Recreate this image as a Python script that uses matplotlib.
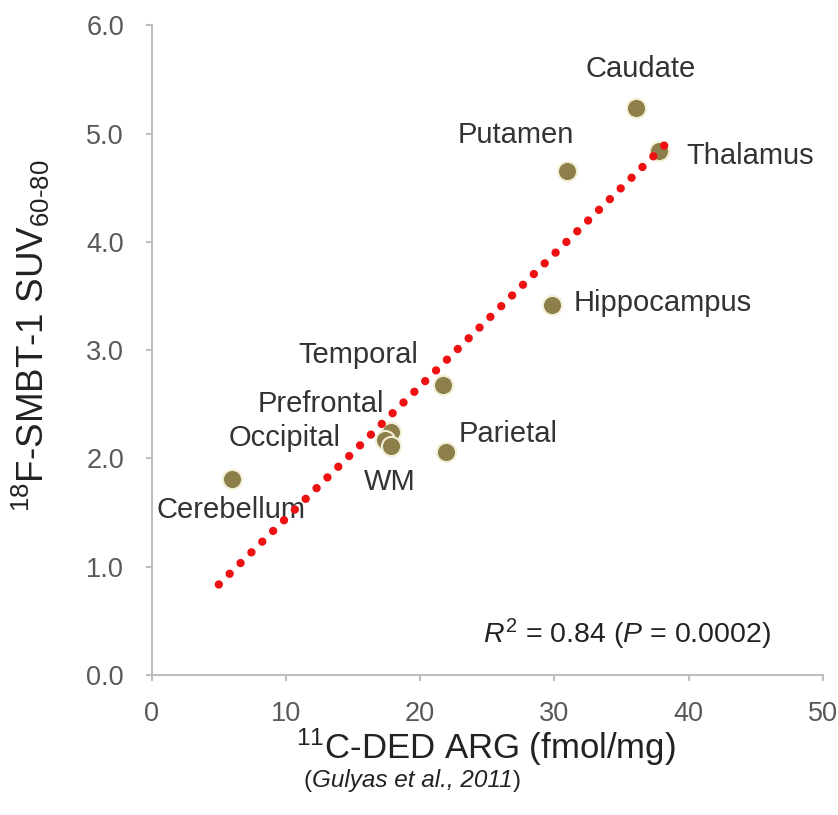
import numpy as np
import matplotlib
matplotlib.use("Agg")
import matplotlib.pyplot as plt

plt.rcParams['font.family'] = ['Liberation Sans', 'DejaVu Sans']
plt.rcParams['mathtext.fontset'] = 'custom'
plt.rcParams['mathtext.rm'] = 'Liberation Sans'
plt.rcParams['mathtext.it'] = 'Liberation Sans:italic'

# regions: 11C-DED ARG (fmol/mg) vs 18F-SMBT-1 SUV60-80
regions = ["Caudate", "Thalamus", "Putamen", "Hippocampus", "Temporal",
           "Parietal", "Prefrontal", "Occipital", "WM", "Cerebellum"]
arg = [36.1, 37.8, 30.9, 29.8, 21.7, 21.9, 17.8, 17.4, 17.8, 6.0]
suv = [5.24, 4.84, 4.65, 3.42, 2.68, 2.06, 2.24, 2.17, 2.11, 1.81]

# label anchors (x, y, ha)
lab_x = [36.4, 39.8, 27.1, 31.4, 15.4, 22.9, 12.6, 9.9, 17.7, 5.9]
lab_y = [5.60, 4.79, 4.99, 3.43, 2.95, 2.22, 2.50, 2.19, 1.78, 1.52]
lab_ha = ["center", "left", "center", "left", "center",
          "left", "center", "center", "center", "center"]

fit_range = [5.0, 38.9]

fig = plt.figure(figsize=(8.38, 8.15), dpi=100)
ax = fig.add_axes([0.181, 0.172, 0.801, 0.797])

ax.scatter(arg, suv, s=190, color="#8c7f4a", edgecolor="#f3efd6",
           linewidth=1.5, zorder=3)

k, b = np.polyfit(arg, suv, 1)
fx = np.array(fit_range)
ax.plot(fx, k * fx + b, color="#ee1111", linewidth=6,
        linestyle=(0, (0.01, 1.82)), dash_capstyle="round", zorder=4)

for name, x, y, ha in zip(regions, lab_x, lab_y, lab_ha):
    ax.text(x, y, name, ha=ha, va="center", fontsize=21, color="#333333")

ax.text(35.4, 0.37, r"$R^2$ = 0.84 ($P$ = 0.0002)", ha="center", va="center",
        fontsize=20.5, color="#222222")

ax.set_xlim(0, 50)
ax.set_ylim(0, 6)
ax.set_xticks([0, 10, 20, 30, 40, 50])
ax.set_yticks(np.arange(0, 6.1, 1.0))
ax.set_yticklabels(["%.1f" % v for v in np.arange(0, 6.1, 1.0)])

for s in ["top", "right"]:
    ax.spines[s].set_visible(False)
for s in ["left", "bottom"]:
    ax.spines[s].set_color("#bfbfbf")
    ax.spines[s].set_linewidth(1.5)
ax.tick_params(axis="x", colors="#bfbfbf", length=4, width=1.5,
               labelcolor="#595959", labelsize=19.5, pad=15)
ax.tick_params(axis="y", colors="#bfbfbf", length=4, width=1.5,
               labelcolor="#595959", labelsize=19.5, pad=16)

# axis titles placed directly on the figure
fig.text(0.037, 0.588, r"$^{18}$F-SMBT-1 SUV$_{60\text{-}80}$", fontsize=26.5,
         color="#222222", rotation=90, ha="center", va="center")
fig.text(0.580, 0.083, r"$^{11}$C-DED ARG (fmol/mg)", fontsize=25,
         color="#222222", ha="center", va="center")

# citation line: italic body in plain parentheses
cite = fig.text(0.492, 0.042, "Gulyas et al., 2011", ha="center", va="center",
                fontsize=17.5, style="italic", color="#222222")
ax.annotate("(", xy=(0, 0.5), xycoords=cite, ha="right", va="center",
            fontsize=17.5, color="#222222")
ax.annotate(")", xy=(1, 0.5), xycoords=cite, ha="left", va="center",
            fontsize=17.5, color="#222222")

fig.savefig("out.png", dpi=100, facecolor="white")
